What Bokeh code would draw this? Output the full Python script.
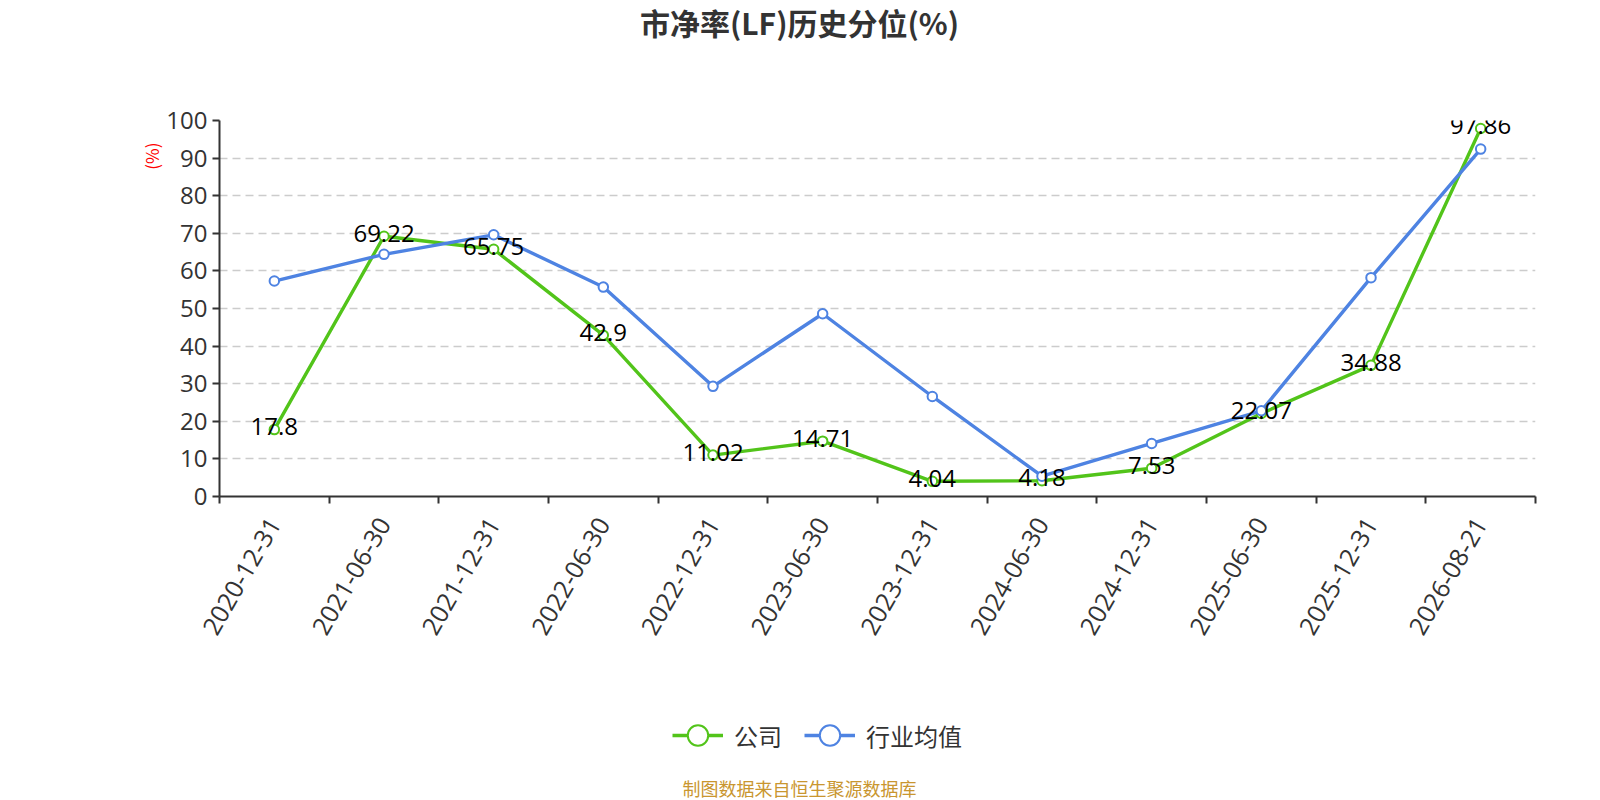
import math
from bokeh.plotting import figure
from bokeh.layouts import column
from bokeh.models import (ColumnDataSource, FixedTicker, Range1d, Label, Legend, LegendItem, Title)
from bokeh.core.properties import value
from bokeh.embed import file_html
from bokeh.resources import INLINE

dates = ["2020-12-31", "2021-06-30", "2021-12-31", "2022-06-30", "2022-12-31", "2023-06-30",
         "2023-12-31", "2024-06-30", "2024-12-31", "2025-06-30", "2025-12-31", "2026-08-21"]
company = [17.8, 69.22, 65.75, 42.9, 11.02, 14.71, 4.04, 4.18, 7.53, 22.07, 34.88, 97.86]
industry = [57.3, 64.4, 69.6, 55.7, 29.3, 48.6, 26.6, 5.4, 14.1, 22.8, 58.2, 92.4]
y_ticks = [0, 10, 20, 30, 40, 50, 60, 70, 80, 90, 100]

CJK = "Noto Sans CJK SC"
NUM = "Open Sans"
GREEN = "#52c41a"
BLUE = "#4e83e2"
AXIS = "#333333"
LW = 3.4

n = len(dates)
xs = [i + 0.5 for i in range(n)]
src = ColumnDataSource(dict(x=xs, company=company, industry=industry,
                            lab=[str(v) for v in company]))

W = 1632
LEFT = 219  # frames of the stacked figures are aligned on this left edge

# ---------- title strip ----------
t = figure(width=W, height=60, output_backend="svg", toolbar_location=None,
           x_axis_type=None, y_axis_type=None, min_border=0, title=None)
t.outline_line_color = None
t.add_layout(Label(x=799 - LEFT, y=38.5, x_units="screen", y_units="screen",
                   text="市净率(LF)历史分位(%)", text_align="center", text_baseline="middle",
                   text_font=CJK, text_font_size="30px", text_font_style="bold",
                   text_color="#333333"))

# ---------- main chart ----------
p = figure(width=W, height=600, output_backend="svg", toolbar_location=None, title=None,
           x_range=Range1d(0, n), y_range=Range1d(0, 100),
           min_border_left=LEFT, min_border_right=97, min_border_top=60, min_border_bottom=164)
p.outline_line_color = None
p.xgrid.grid_line_color = None
p.ygrid.grid_line_color = "#cccccc"
p.ygrid.grid_line_dash = "8 5"
p.ygrid.grid_line_width = 1.5
p.ygrid.ticker = FixedTicker(ticks=y_ticks)

p.yaxis.ticker = FixedTicker(ticks=y_ticks)
p.yaxis.axis_line_color = AXIS
p.yaxis.axis_line_width = 2
p.yaxis.major_tick_line_color = AXIS
p.yaxis.major_tick_line_width = 2
p.yaxis.major_tick_out = 7
p.yaxis.major_tick_in = 0
p.yaxis.minor_tick_line_color = None
p.yaxis.major_label_text_font = NUM
p.yaxis.major_label_text_font_size = "24px"
p.yaxis.major_label_text_color = AXIS
p.yaxis.major_label_standoff = 5

p.xaxis.ticker = FixedTicker(ticks=xs, minor_ticks=list(range(n + 1)))
p.xaxis.major_label_overrides = {x: d for x, d in zip(xs, dates)}
p.xaxis.major_tick_line_color = None
p.xaxis.minor_tick_line_color = AXIS
p.xaxis.minor_tick_line_width = 2
p.xaxis.minor_tick_out = 7
p.xaxis.minor_tick_in = 0
p.xaxis.axis_line_color = AXIS
p.xaxis.axis_line_width = 2
p.xaxis.major_label_orientation = math.pi / 3
p.xaxis.major_label_text_font = NUM
p.xaxis.major_label_text_font_size = "25px"
p.xaxis.major_label_text_color = AXIS
p.xaxis.major_label_standoff = 16

p.add_layout(Title(text="(%)", align="right", offset=22, text_font=CJK, text_font_size="17px",
                   text_font_style="normal", text_color="red", standoff=0), "left")

p.line("x", "company", source=src, line_color=GREEN, line_width=LW)
p.scatter("x", "company", source=src, size=9.5, marker="circle",
          fill_color="white", line_color=GREEN, line_width=2)
p.line("x", "industry", source=src, line_color=BLUE, line_width=LW)
p.scatter("x", "industry", source=src, size=9.5, marker="circle",
          fill_color="white", line_color=BLUE, line_width=2)
p.text("x", "company", text="lab", source=src, text_align="center", text_baseline="middle",
       y_offset=-3, text_font=value(NUM), text_font_size="24px", text_color="#000000")

# ---------- legend + source strip ----------
lg = figure(width=W, height=156, output_backend="svg", toolbar_location=None, title=None,
            x_axis_type=None, y_axis_type=None, min_border=0,
            x_range=Range1d(0, n), y_range=Range1d(1000, 1001))
lg.outline_line_color = None
gl1 = lg.line("x", "company", source=src, line_color=GREEN, line_width=LW)
gs1 = lg.scatter("x", "company", source=src, size=9.5, marker="circle",
                 fill_color="white", line_color=GREEN, line_width=2)
gl2 = lg.line("x", "industry", source=src, line_color=BLUE, line_width=LW)
gs2 = lg.scatter("x", "industry", source=src, size=9.5, marker="circle",
                 fill_color="white", line_color=BLUE, line_width=2)
legend = Legend(items=[LegendItem(label="公司", renderers=[gl1, gs1]),
                       LegendItem(label="行业均值", renderers=[gl2, gs2])],
                orientation="horizontal", location=(672 - LEFT, 53),
                glyph_width=51, glyph_height=56, label_text_font=CJK,
                label_text_font_size="24px", label_text_color="#333333",
                label_text_baseline="middle", label_height=56,
                spacing=22, label_standoff=11, background_fill_alpha=0,
                border_line_color=None, padding=0, margin=0)
lg.add_layout(legend, "center")
lg.add_layout(Label(x=799 - LEFT, y=29, x_units="screen", y_units="screen",
                    text="制图数据来自恒生聚源数据库", text_align="center", text_baseline="middle",
                    text_font=CJK, text_font_size="18px", text_color="#c9962f"))

open("out.html", "w").write(file_html(column(t, p, lg, spacing=0), INLINE))
